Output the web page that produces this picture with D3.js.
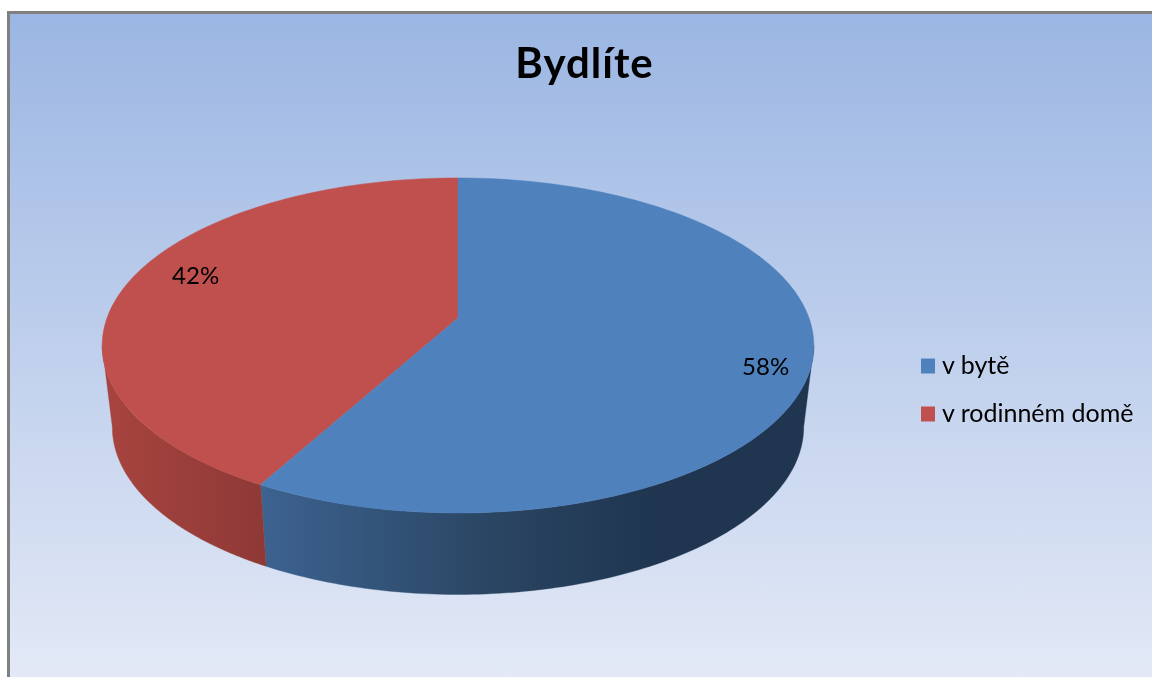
<!DOCTYPE html>
<html><head><meta charset="utf-8">
<script src="https://cdn.jsdelivr.net/npm/d3@7/dist/d3.min.js"></script>
<style>html,body{margin:0;padding:0;background:#fff}svg{display:block}text{font-family:Lato,sans-serif;fill:#000}</style>
</head><body><svg id="c" width="1152" height="677"></svg>
<script>
const title = "Bydlíte";
const categories = ["v bytě", "v rodinném domě"];
const values = [58, 42];
const valueLabels = ["58%", "42%"];
const topColors = ["#4f81bd", "#c0504d"];

const svg = d3.select("#c");
const defs = svg.append("defs");
const bg = defs.append("linearGradient").attr("id","bg").attr("x1",0).attr("y1",0).attr("x2",0).attr("y2",1);
bg.append("stop").attr("offset",0).attr("stop-color","#9bb6e3");
bg.append("stop").attr("offset",1).attr("stop-color","#e3e9f6");
defs.append("filter").attr("id","soft").append("feGaussianBlur").attr("stdDeviation",0.45);
const mkSide = (id, stops) => {
  const g = defs.append("linearGradient").attr("id",id).attr("gradientUnits","userSpaceOnUse")
    .attr("x1",102).attr("x2",814).attr("y1",0).attr("y2",0);
  stops.forEach(([o,c]) => g.append("stop").attr("offset",o).attr("stop-color",c));
};
mkSide("side0", [[0.22,"#3d6391"],[0.55,"#2a4562"],[0.78,"#1f3550"],[1,"#1f3550"]]);
mkSide("side1", [[0,"#a8443f"],[0.23,"#8e3936"]]);

svg.append("rect").attr("x",8.5).attr("y",12.5).attr("width",1144).attr("height",665).attr("fill","url(#bg)");
svg.append("path").attr("d","M8.5,677V12.5H1152").attr("fill","none").attr("stroke","#808080").attr("stroke-width",3);

// perspective projection of the pie disc
const cx = 458, apexY = 318, k = 0.164, gy = 163, fTop = 351, fBottom = 341, depth = 81.5;
const projTop = (a, r=1) => {
  const u = Math.sin(a)*r, v = -Math.cos(a)*r, w = 1 - k*v;
  return [cx + fTop*u/w, apexY + gy*v/w];
};
const projBottom = a => {
  const u = Math.sin(a), v = -Math.cos(a), w = 1 - k*v;
  return [cx + fBottom*u/w, apexY + depth + gy*v/w];
};
const arcPts = (fn, a0, a1) => d3.range(0, 121).map(i => fn(a0 + (a1-a0)*i/120));

const arcs = d3.pie().sort(null)(values);
const tanRight = Math.acos(-k), tanLeft = 2*Math.PI - tanRight;
const line = d3.line();

// sides
arcs.forEach((d,i) => {
  const a0 = Math.max(d.startAngle, tanRight), a1 = Math.min(d.endAngle, tanLeft);
  if (a1 <= a0) return;
  const pts = arcPts(projTop, a0, a1).concat(arcPts(projBottom, a0, a1).reverse());
  svg.append("path").attr("d", line(pts)+"Z").attr("fill",`url(#side${i})`)
    .attr("stroke",`url(#side${i})`).attr("stroke-width",0.4);
});
// top faces
[1,0].forEach(i => {
  const d = arcs[i];
  const pts = [projTop(0,0)].concat(arcPts(projTop, d.startAngle, d.endAngle));
  svg.append("path").attr("d", line(pts)+"Z").attr("fill",topColors[i])
    .attr("stroke",topColors[i]).attr("stroke-width",0.5);
});
// value labels
const labelR = [0.87, 0.80], labelDy = [20, -3];
arcs.forEach((d,i) => {
  const p = projTop((d.startAngle+d.endAngle)/2, labelR[i]);
  svg.append("text").attr("x",p[0]+1).attr("y",p[1]+labelDy[i]).attr("text-anchor","middle")
    .attr("font-size",24).attr("filter","url(#soft)").text(valueLabels[i]);
});
// title
svg.append("text").attr("x",584.5).attr("y",78).attr("text-anchor","middle")
  .attr("font-size",42).attr("font-weight",700).attr("letter-spacing",1)
  .attr("filter","url(#soft)").text(title);
// legend
const legendY = d3.scalePoint().domain(categories).range([366,414]);
categories.forEach((c,i) => {
  const y = legendY(c);
  svg.append("rect").attr("x",921).attr("y",y-7.5).attr("width",14).attr("height",15).attr("fill",topColors[i]);
  svg.append("text").attr("x",942).attr("y",y+7.5).attr("font-size",25)
    .attr("filter","url(#soft)").text(c);
});
</script></body></html>
